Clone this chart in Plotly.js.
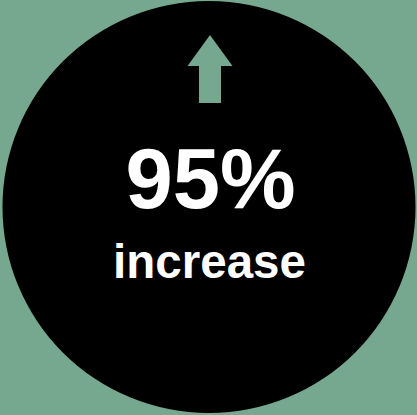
<!DOCTYPE html>
<html>
<head>
<meta charset="utf-8">
<script src="https://cdn.plot.ly/plotly-3.0.1.min.js"></script>
<style>html,body{margin:0;padding:0;background:#76a78f;}#chart{width:417px;height:415px;}</style>
</head>
<body>
<div id="chart"></div>
<script>
// Data
const changeValues = [95];
const changeLabels = ['increase'];
const changeDirections = ['up'];

const green = '#76a78f';
const font = 'Liberation Sans, Arial, sans-serif';

const value = changeValues[0];
const label = changeLabels[0];
const up = changeDirections[0] === 'up';

// Arrow polygon (in plot coordinates, y grows downward)
const tipY = up ? 35 : 103, baseY = up ? 103 : 35, headY = up ? 66 : 72;
const arrowPath = `M 210 ${tipY} L 232.5 ${headY} L 221 ${headY} L 221 ${baseY} L 199 ${baseY} L 199 ${headY} L 187.5 ${headY} Z`;

const data = [{
  type: 'scatter', mode: 'text',
  x: [210.5, 209.5],
  y: [187, 266],
  text: [value + '%', label],
  textposition: 'middle center',
  textfont: {family: font, color: '#ffffff', size: [85, 47.5], weight: 'bold'},
  hoverinfo: 'skip', showlegend: false
}];

const layout = {
  width: 417, height: 415,
  margin: {l: 0, r: 0, t: 0, b: 0, pad: 0},
  paper_bgcolor: green, plot_bgcolor: green,
  xaxis: {range: [0, 417], visible: false, fixedrange: true},
  yaxis: {range: [415, 0], visible: false, fixedrange: true},
  showlegend: false,
  shapes: [
    {type: 'circle', xref: 'x', yref: 'y', x0: 2.5, x1: 415.5, y0: 1, y1: 413,
     fillcolor: '#000000', line: {width: 0}, layer: 'below'},
    {type: 'path', xref: 'x', yref: 'y', path: arrowPath,
     fillcolor: green, line: {width: 0}, layer: 'below'}
  ]
};

Plotly.newPlot('chart', data, layout, {displayModeBar: false, staticPlot: true});
</script>
</body>
</html>
